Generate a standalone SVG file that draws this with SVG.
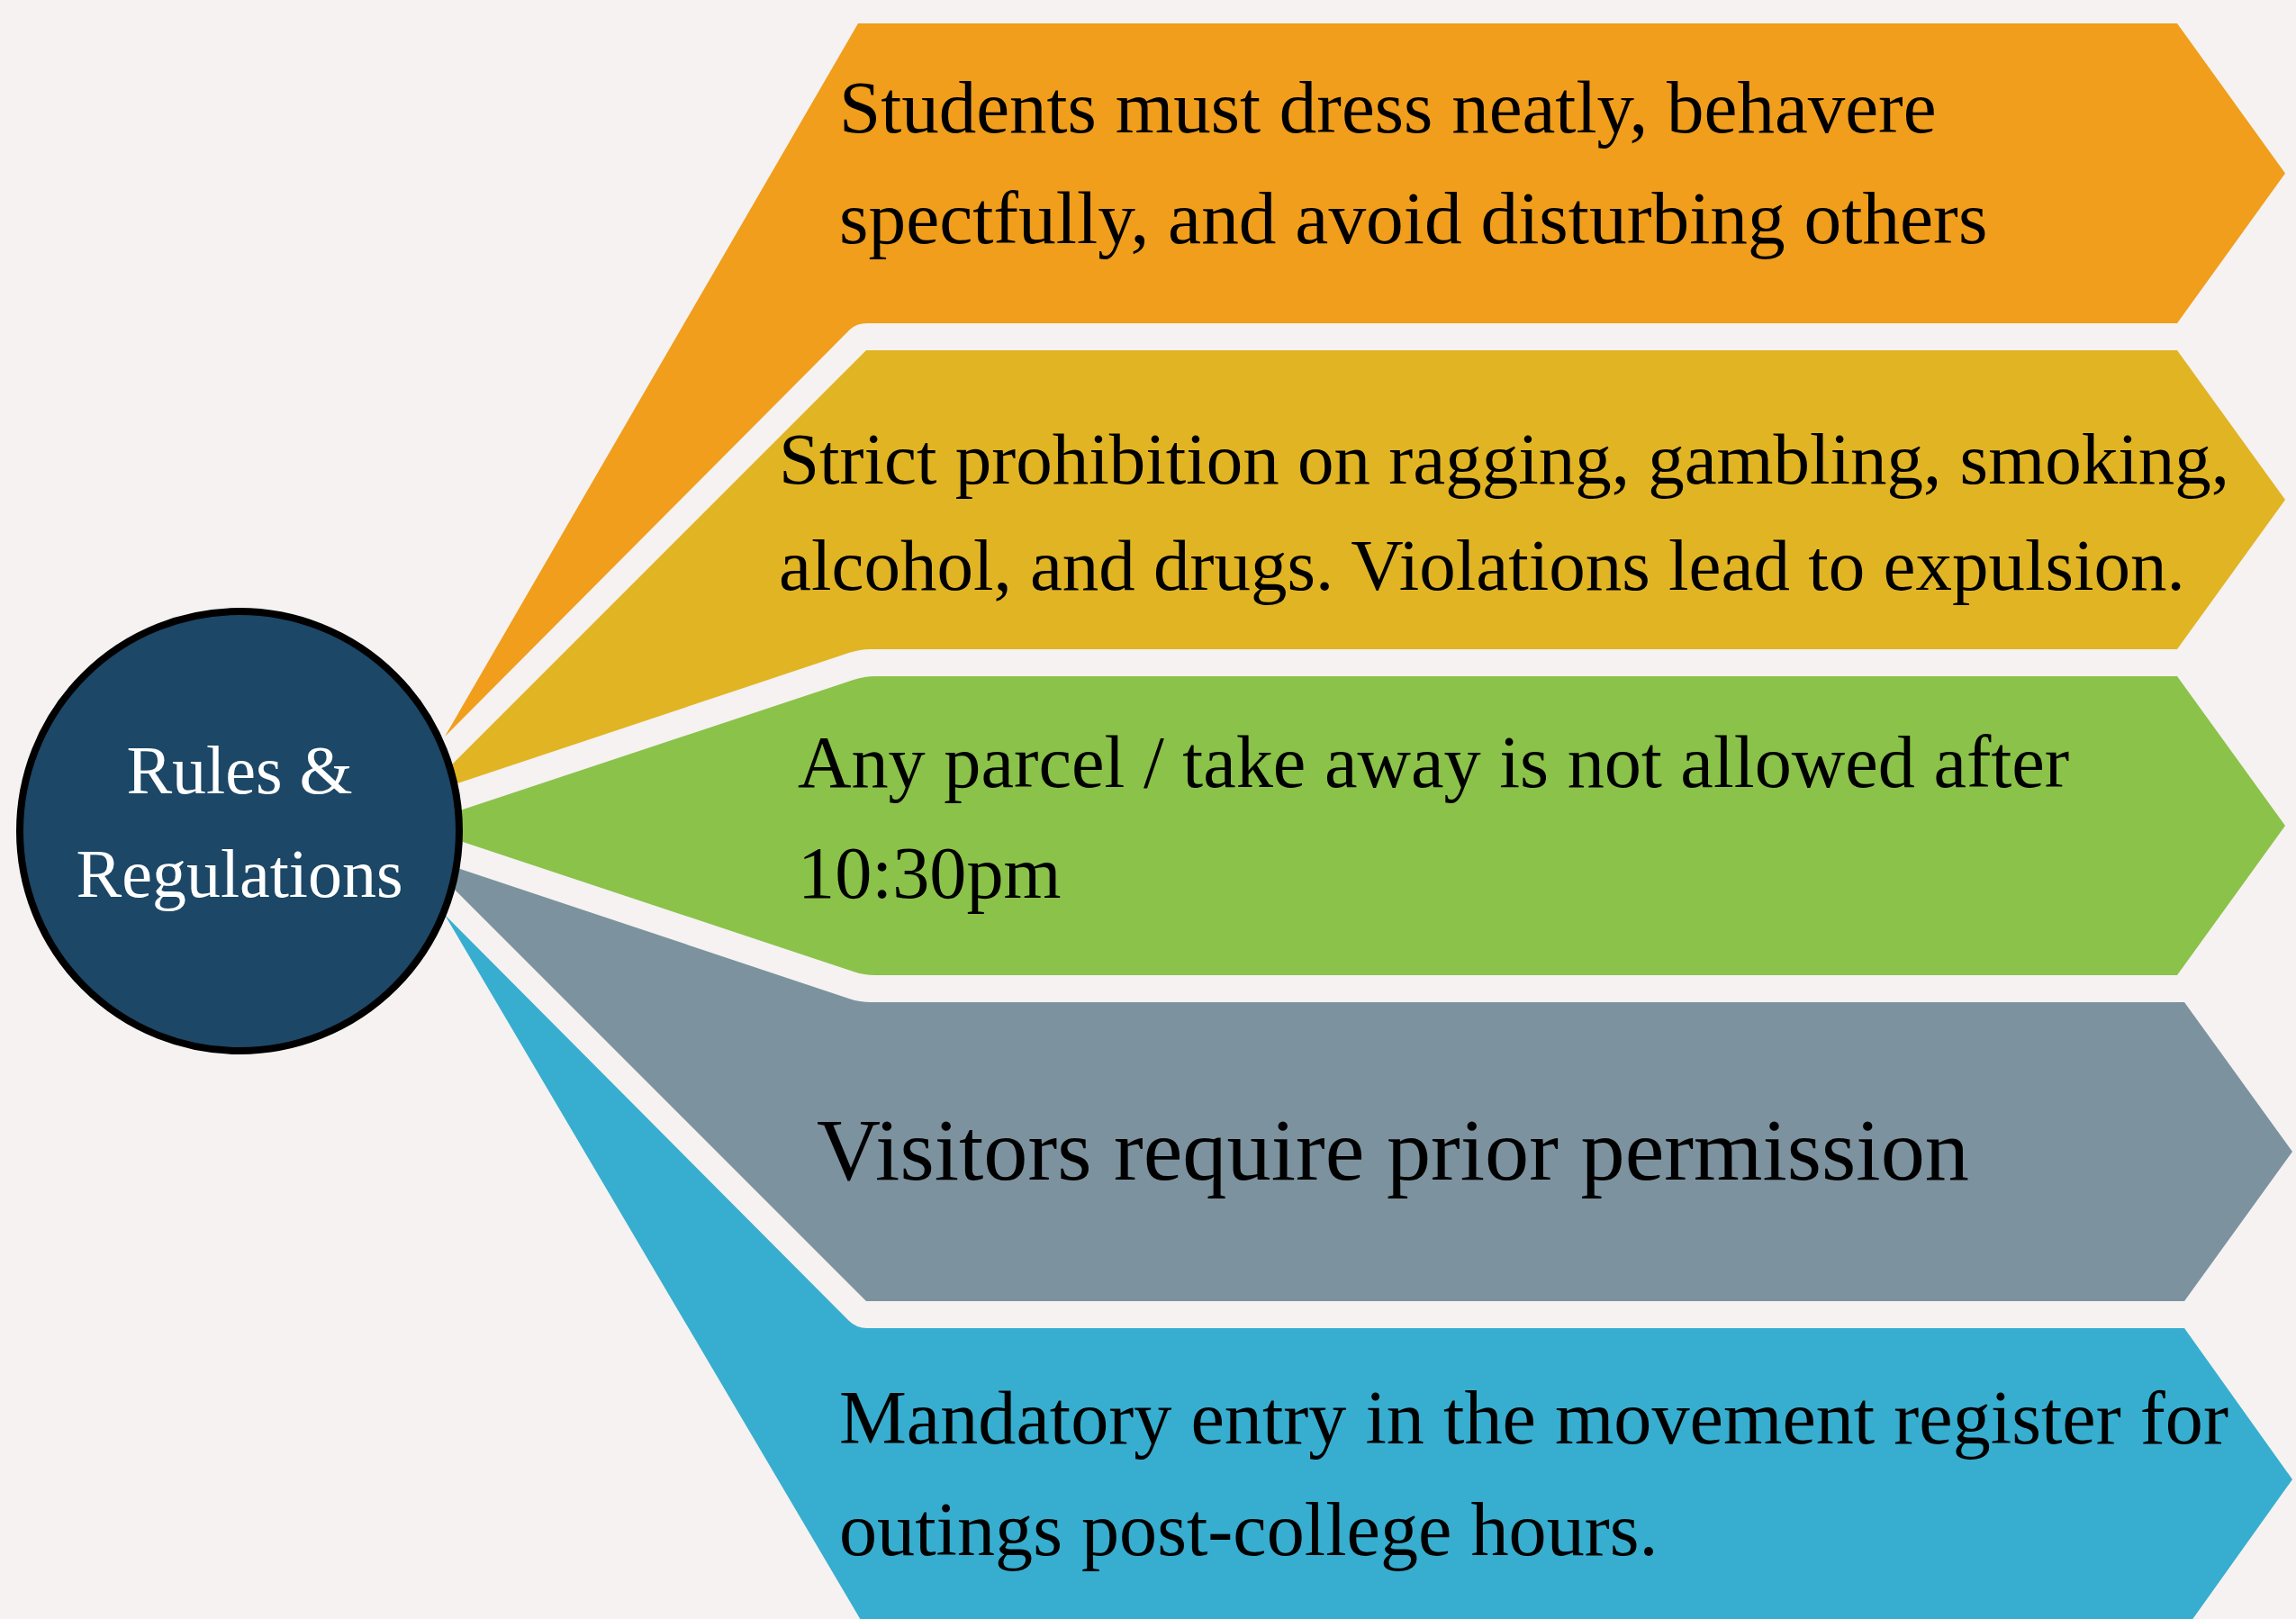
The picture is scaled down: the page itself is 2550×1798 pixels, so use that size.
<svg xmlns="http://www.w3.org/2000/svg" width="2550" height="1798" viewBox="0 0 2550 1798">
<style>
.t{font-family:"Liberation Serif","Times New Roman",serif;fill:#000}
.c{font-family:"Liberation Serif","Times New Roman",serif;fill:#fff;font-size:76px;text-anchor:middle}
</style>
<rect x="0" y="0" width="2550" height="1798" fill="#F5F2F1"/>
<g id="node-dress">
<path d="M953,26 L2418,26 L2538,192.5 L2418,359 L963,359 Q951,359 943.9,366.1 L494,818 Z" fill="#F09E1C"/>
<text class="t" font-size="83" x="932" y="147">Students must dress neatly, behavere</text>
<text class="t" font-size="83.4" x="932" y="270">spectfully, and avoid disturbing others</text>
</g>
<g id="node-prohibition">
<path d="M962,389 L2418,389 L2538,555 L2418,721 L967,721 Q955,721 943.6,724.8 L467.5,883.5 Z" fill="#E1B424"/>
<text class="t" font-size="81" x="865" y="537">Strict prohibition on ragging, gambling, smoking,</text>
<text class="t" font-size="81" x="865" y="655">alcohol, and drugs. Violations lead to expulsion.</text>
</g>
<g id="node-parcel">
<path d="M460,917 L948.6,754.8 Q960,751 972,751 L2418,751 L2538,917 L2418,1083 L972,1083 Q960,1083 948.6,1079.2 Z" fill="#8BC24A"/>
<text class="t" font-size="82.3" x="886" y="874">Any parcel / take away is not allowed after</text>
<text class="t" font-size="82.3" x="886" y="997">10:30pm</text>
</g>
<g id="node-visitors">
<path d="M467.5,950.5 L943.6,1109.2 Q955,1113 967,1113 L2426,1113 L2546,1279 L2426,1445 L962,1445 Z" fill="#7C929F"/>
<text class="t" font-size="98.3" x="907" y="1310">Visitors require prior permission</text>
</g>
<g id="node-movement">
<path d="M494,1016 L942.5,1466.5 Q951,1475 963,1475 L2426,1475 L2546,1643 L2426,1811 L963,1811 Z" fill="#37AECF"/>
<text class="t" font-size="84.2" x="932" y="1603">Mandatory entry in the movement register for</text>
<text class="t" font-size="84.2" x="932" y="1727">outings post-college hours.</text>
</g>
<g id="node-center">
<circle cx="266" cy="923" r="244" fill="#1C4766" stroke="#000" stroke-width="8"/>
<text class="c" x="266" y="881">Rules &amp;</text>
<text class="c" x="266" y="996">Regulations</text>
</g>
</svg>
